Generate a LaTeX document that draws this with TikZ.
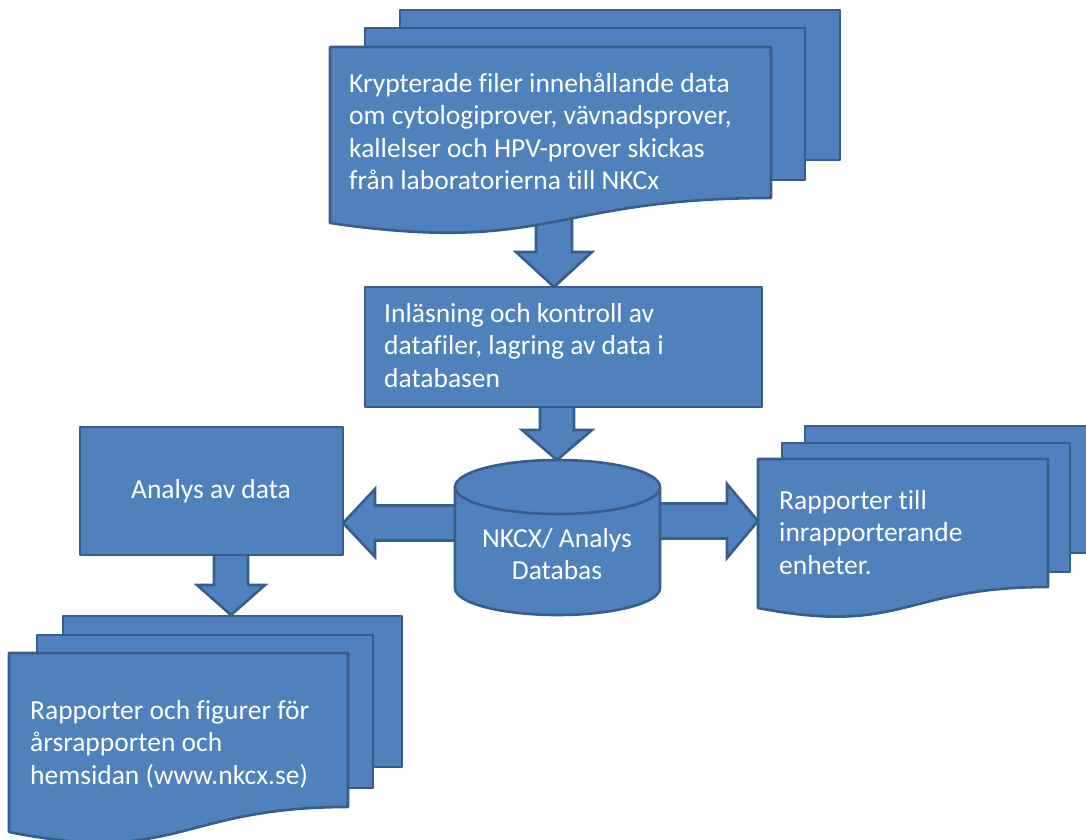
\documentclass[tikz,border=0pt]{standalone}
\usepackage{fontspec}
\setmainfont{Carlito}[Ligatures=NoCommon]
\usetikzlibrary{calc}
\definecolor{myblue}{HTML}{4F81BD}
\definecolor{myline}{HTML}{385D8A}
\tikzset{
  shp/.style={fill=myblue, draw=myline, line width=2.6pt, line join=round},
  blk/.style={fill=myblue, draw=myline, line width=2.6pt, line join=miter},
  txt/.style={text=white, font=\fontsize{27.5}{32.5}\selectfont, inner sep=0pt},
}
% vertical block arrow: start, tip, shaft half width, head half width, head length
\newcommand\blkdown[5]{\draw[blk] let \p1=(#1), \p2=(#2) in
  (\x1-#3pt,\y1) -- (\x1+#3pt,\y1) -- (\x1+#3pt,\y2+#5pt) -- (\x1+#4pt,\y2+#5pt)
  -- (\x1,\y2) -- (\x1-#4pt,\y2+#5pt) -- (\x1-#3pt,\y2+#5pt) -- cycle;}
\newcommand\blkleft[5]{\draw[blk] let \p1=(#1), \p2=(#2) in
  (\x1,\y1+#3pt) -- (\x2+#5pt,\y1+#3pt) -- (\x2+#5pt,\y1+#4pt) -- (\x2,\y2)
  -- (\x2+#5pt,\y1-#4pt) -- (\x2+#5pt,\y1-#3pt) -- (\x1,\y1-#3pt) -- cycle;}
\newcommand\blkright[5]{\draw[blk] let \p1=(#1), \p2=(#2) in
  (\x1,\y1+#3pt) -- (\x2-#5pt,\y1+#3pt) -- (\x2-#5pt,\y1+#4pt) -- (\x2,\y2)
  -- (\x2-#5pt,\y1-#4pt) -- (\x2-#5pt,\y1-#3pt) -- (\x1,\y1-#3pt) -- cycle;}
\begin{document}
\begin{tikzpicture}[x=1pt,y=-1pt]
\useasboundingbox (0,0) rectangle (1086,839);

% connector end points
\coordinate (a1s) at (554,210);
\coordinate (a1e) at (554,287);
\coordinate (a2s) at (557,405);
\coordinate (a2e) at (557,460);
\coordinate (a3s) at (460,523);
\coordinate (a3e) at (343,523);
\coordinate (a4s) at (655,521);
\coordinate (a4e) at (758,521);
\coordinate (a5s) at (231,553);
\coordinate (a5e) at (231,615);

% block arrows (drawn first, shapes lie on top)
\blkdown{a1s}{a1e}{18}{38}{35}
\blkdown{a2s}{a2e}{17}{35}{30}
\blkleft{a3s}{a3e}{17.5}{34}{32}
\blkright{a4s}{a4e}{17.5}{37}{31}
\blkdown{a5s}{a5e}{17}{34}{30}

% top multi-document
\draw[shp] (400,10) rectangle (840,160);
\draw[shp] (365,28) rectangle (805,180);
\draw[shp] (330,47) -- (771,47) -- (771,198) .. controls (550.5,198) and (550.5,255) .. (330,223) -- cycle;
\node[txt, anchor=base west, align=left] (files) at (349,189.5)
  {Krypterade filer innehållande data\\om cytologiprover, vävnadsprover,\\kallelser och HPV-prover skickas\\från laboratorierna till NKCx};

% load box
\node[shp, rectangle, minimum width=397pt, minimum height=120pt, inner sep=0pt] (load) at (563.5,347) {};
\node[txt, anchor=base west, align=left] (loadtxt) at (384,387)
  {Inläsning och kontroll av\\datafiler, lagring av data i\\databasen};

% database cylinder
\draw[shp] (455,487) -- (455,588) arc[start angle=180, end angle=360, x radius=102.5pt, y radius=27pt]
  -- (660,487) arc[start angle=0, end angle=180, x radius=102.5pt, y radius=27pt] -- cycle;
\draw[shp, fill=none] (455,487) arc[start angle=180, end angle=360, x radius=102.5pt, y radius=27pt];
\node[txt, anchor=base, align=center] (db) at (557,579.5) {NKCX/ Analys\\Databas};

% analysis box
\node[shp, rectangle, minimum width=263pt, minimum height=128pt, inner sep=0pt] (analys) at (211.5,491) {};
\node[txt, anchor=base] (analystxt) at (211,498) {Analys av data};

% right multi-document
\draw[shp] (805,426) rectangle (1100,553);
\draw[shp] (782,443) rectangle (1070,572);
\draw[shp] (758,459) -- (1048,459) -- (1048,587) .. controls (903,587) and (903,636) .. (758,608) -- cycle;
\node[txt, anchor=base west, align=left] (rep) at (779,574) {Rapporter till\\inrapporterande\\enheter.};

% bottom-left multi-document
\draw[shp] (63,616) rectangle (402,767);
\draw[shp] (37,635) rectangle (373,788);
\draw[shp] (9,653) -- (348,653) -- (348,807) .. controls (178.5,807) and (178.5,866) .. (9,832) -- cycle;
\node[txt, anchor=base west, align=left] (fig) at (30,784)
  {Rapporter och figurer för\\årsrapporten och\\hemsidan (www.nkcx.se)};
\end{tikzpicture}
\end{document}
